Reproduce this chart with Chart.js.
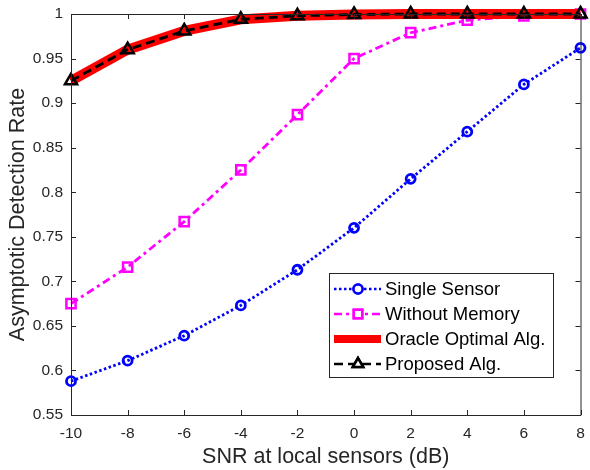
<!DOCTYPE html>
<html>
<head>
<meta charset="utf-8">
<script src="https://cdn.jsdelivr.net/npm/chart.js@4.4.1/dist/chart.umd.min.js"></script>
<style>
  html, body { margin: 0; padding: 0; background: #fff; }
  #wrap { width: 590px; height: 470px; position: relative; }
</style>
</head>
<body>
<div id="wrap"><canvas id="detChart" width="590" height="470"></canvas></div>
<script>
let snr = [-10, -8, -6, -4, -2, 0, 2, 4, 6, 8];
let singleSensor = [0.588, 0.611, 0.639, 0.673, 0.713, 0.760, 0.815, 0.868, 0.921, 0.962];
let withoutMemory = [0.675, 0.716, 0.767, 0.825, 0.887, 0.950, 0.979, 0.993, 0.998, 1.0];
let oracleOptimal = [0.925, 0.960, 0.981, 0.994, 0.998, 0.9995, 1.0, 1.0, 1.0, 1.0];
let proposedAlg = [0.925, 0.960, 0.981, 0.994, 0.998, 0.9995, 1.0, 1.0, 1.0, 1.0];
let yTicks = [0.55, 0.6, 0.65, 0.7, 0.75, 0.8, 0.85, 0.9, 0.95, 1];

const FONT = "'Liberation Sans', Arial, Helvetica, sans-serif";
const TXT = "#262626";

function pts(ys) {
    return snr.map((x, i) => ({ x: x, y: ys[i] }));
}

// legend entries drawn by the plugin below
let legendItems = [
    { label: "Single Sensor", color: "#0000ff", width: 2.5, dash: [2.5, 2.5], marker: "circle" },
    { label: "Without Memory", color: "#ff00ff", width: 2.5, dash: [8, 4, 3, 4], marker: "rect" },
    { label: "Oracle Optimal Alg.", color: "#ff0000", width: 8, dash: [], marker: null },
    { label: "Proposed Alg.", color: "#000000", width: 2.5, dash: [9, 5], marker: "triangle" }
];

// box, inward ticks on all sides and the legend
const boxPlugin = {
    id: "boxPlugin",
    afterDraw(chart) {
        let ctx = chart.ctx;
        let a = chart.chartArea;
        let xs = chart.scales.x, ys = chart.scales.y;
        ctx.save();
        ctx.strokeStyle = TXT;
        ctx.lineWidth = 1;
        ctx.setLineDash([]);
        ctx.beginPath();
        ctx.rect(a.left + 0.5, a.top + 0.5, a.right - a.left, a.bottom - a.top);
        ctx.stroke();
        ctx.beginPath();
        snr.forEach(v => {
            let px = Math.round(xs.getPixelForValue(v)) + 0.5;
            ctx.moveTo(px, a.bottom); ctx.lineTo(px, a.bottom - 5);
            ctx.moveTo(px, a.top); ctx.lineTo(px, a.top + 5);
        });
        yTicks.forEach(v => {
            let py = Math.round(ys.getPixelForValue(v)) + 0.5;
            ctx.moveTo(a.left, py); ctx.lineTo(a.left + 5, py);
            ctx.moveTo(a.right, py); ctx.lineTo(a.right - 5, py);
        });
        ctx.stroke();

        // legend
        let lx = 329, ly = 273, lw = 224, lh = 104;
        ctx.fillStyle = "#fff";
        ctx.fillRect(lx, ly, lw, lh);
        ctx.strokeStyle = TXT;
        ctx.lineWidth = 1;
        ctx.strokeRect(lx + 0.5, ly + 0.5, lw, lh);
        legendItems.forEach((it, i) => {
            let cy = 289 + i * 25;
            ctx.save();
            ctx.strokeStyle = it.color;
            ctx.lineWidth = it.width;
            ctx.setLineDash(it.dash);
            ctx.beginPath();
            ctx.moveTo(334, cy); ctx.lineTo(381, cy);
            ctx.stroke();
            ctx.restore();
            if (it.marker) {
                ctx.save();
                ctx.strokeStyle = it.color;
                ctx.fillStyle = "#fff";
                ctx.lineWidth = 2.5;
                Chart.helpers.drawPoint(ctx, { pointStyle: it.marker, radius: it.marker === "rect" ? 6 : (it.marker === "triangle" ? 6 : 4.5), borderWidth: 2.5, rotation: 0 }, 358, cy);
                ctx.fill();
                ctx.stroke();
                ctx.restore();
            }
            ctx.fillStyle = "#000";
            ctx.font = "18.5px " + FONT;
            ctx.textBaseline = "middle";
            ctx.textAlign = "left";
            ctx.fillText(it.label, 385, cy + 1);
        });
        ctx.restore();
    }
};

let ctx = document.getElementById("detChart").getContext("2d");
let chart = new Chart(ctx, {
    type: "line",
    data: {
        datasets: [
            {
                label: "Proposed Alg.",
                data: pts(proposedAlg),
                borderColor: "#000000",
                borderWidth: 2.8,
                borderDash: [9, 5],
                pointStyle: "triangle",
                pointRadius: 7,
                pointBorderWidth: 2.5,
                pointBorderColor: "#000000",
                pointBackgroundColor: "rgba(0,0,0,0)",
                clip: false
            },
            {
                label: "Oracle Optimal Alg.",
                data: pts(oracleOptimal),
                borderColor: "#ff0000",
                borderWidth: 10,
                pointRadius: 0,
                clip: false
            },
            {
                label: "Without Memory",
                data: pts(withoutMemory),
                borderColor: "#ff00ff",
                borderWidth: 2.8,
                borderDash: [8, 4, 3, 4],
                pointStyle: "rect",
                pointRadius: 6.5,
                pointBorderWidth: 2.5,
                pointBorderColor: "#ff00ff",
                pointBackgroundColor: "rgba(0,0,0,0)",
                clip: false
            },
            {
                label: "Single Sensor",
                data: pts(singleSensor),
                borderColor: "#0000ff",
                borderWidth: 2.8,
                borderDash: [2.5, 2.5],
                pointStyle: "circle",
                pointRadius: 4.5,
                pointBorderWidth: 2.8,
                pointBorderColor: "#0000ff",
                pointBackgroundColor: "rgba(0,0,0,0)",
                clip: false
            }
        ]
    },
    options: {
        responsive: false,
        animation: false,
        layout: { padding: { left: 0, top: 14, right: 9, bottom: 0 } },
        plugins: { legend: { display: false }, tooltip: { enabled: false } },
        scales: {
            x: {
                type: "linear",
                min: -10,
                max: 8,
                afterBuildTicks: s => { s.ticks = snr.map(v => ({ value: v })); },
                afterFit: s => { s.height = 55; s.paddingLeft = 0; s.paddingRight = 0; },
                grid: { drawOnChartArea: false, drawTicks: false },
                border: { display: true, color: TXT, width: 1 },
                ticks: { color: TXT, font: { family: FONT, size: 15.5 }, padding: 9, maxRotation: 0 },
                title: { display: true, text: "SNR at local sensors (dB)", color: TXT, font: { family: FONT, size: 21.5 }, padding: { top: 2, bottom: 0 } }
            },
            y: {
                min: 0.55,
                max: 1,
                afterBuildTicks: s => { s.ticks = yTicks.map(v => ({ value: v })); },
                afterFit: s => { s.width = 71; s.paddingTop = 0; s.paddingBottom = 0; },
                grid: { drawOnChartArea: false, drawTicks: false },
                border: { display: true, color: TXT, width: 1 },
                ticks: { color: TXT, font: { family: FONT, size: 15.5 }, padding: 8, callback: v => String(parseFloat(v.toFixed(2))) },
                title: { display: true, text: "Asymptotic Detection Rate", color: TXT, font: { family: FONT, size: 21.5 }, padding: { top: 5, bottom: 0 } }
            }
        }
    },
    plugins: [boxPlugin]
});
</script>
</body>
</html>
